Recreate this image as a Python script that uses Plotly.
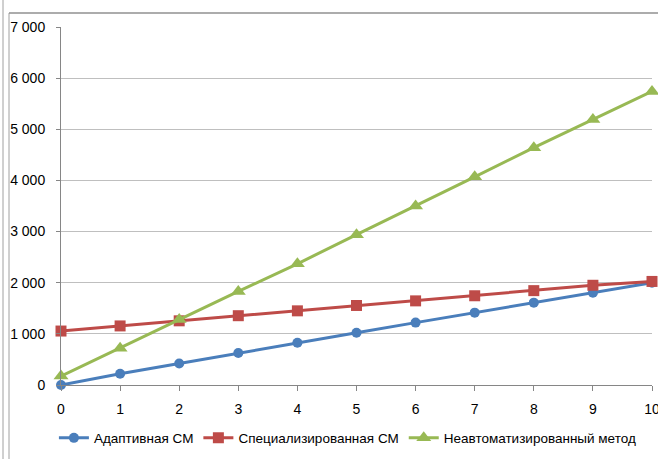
import plotly.graph_objects as go

x_vals = [0, 1, 2, 3, 4, 5, 6, 7, 8, 9, 10]
adaptive = [0, 220, 420, 625, 825, 1020, 1220, 1415, 1610, 1805, 2000]
specialized = [1055, 1155, 1255, 1355, 1450, 1555, 1645, 1745, 1845, 1950, 2025]
manual = [175, 720, 1280, 1830, 2370, 2940, 3500, 4070, 4640, 5190, 5740]

series_names = ["Адаптивная СМ", "Специализированная СМ", "Неавтоматизированный метод"]
y_tickvals = [0, 1000, 2000, 3000, 4000, 5000, 6000, 7000]
y_ticktext = ["0", "1 000", "2 000", "3 000", "4 000", "5 000", "6 000", "7 000"]
x_ticktext = [str(v) for v in x_vals]

FONT = "Liberation Sans"

fig = go.Figure()
fig.add_trace(go.Scatter(x=x_vals, y=adaptive, name=series_names[0], mode="lines+markers",
                         line=dict(color="#4A7EBB", width=3),
                         marker=dict(symbol="circle", size=10, color="#4A7EBB"),
                         cliponaxis=False))
fig.add_trace(go.Scatter(x=x_vals, y=specialized, name=series_names[1], mode="lines+markers",
                         line=dict(color="#BE4B48", width=3),
                         marker=dict(symbol="square", size=11, color="#BE4B48"),
                         cliponaxis=False))
fig.add_trace(go.Scatter(x=x_vals, y=manual, name=series_names[2], mode="lines+markers",
                         line=dict(color="#98B954", width=3),
                         marker=dict(symbol="triangle-up", size=13, color="#98B954"),
                         cliponaxis=False))

fig.update_layout(
    width=658, height=459,
    margin=dict(l=61, r=6, t=27, b=74, autoexpand=False),
    paper_bgcolor="white", plot_bgcolor="white",
    font=dict(family=FONT, size=14, color="#000000"),
    showlegend=True,
    legend=dict(orientation="h", x=-0.012, y=-0.105, xanchor="left", yanchor="top",
                font=dict(family=FONT, size=13.5), itemwidth=30, tracegroupgap=0),
    xaxis=dict(range=[0, 10], tickvals=x_vals, ticktext=x_ticktext,
               showgrid=False, showline=True, linecolor="#868686", linewidth=1,
               ticks="outside", ticklen=5, tickcolor="#868686", zeroline=False,
               ticklabelstandoff=6, ticklabeloverflow="allow", automargin=False,
               tickfont=dict(family=FONT, size=14)),
    yaxis=dict(range=[0, 7000], tickvals=y_tickvals, ticktext=y_ticktext,
               showgrid=True, gridcolor="#BFBFBF", gridwidth=1,
               showline=True, linecolor="#868686", linewidth=1,
               ticks="outside", ticklen=4, tickcolor="#868686", zeroline=False,
               ticklabelstandoff=8, ticklabeloverflow="allow", automargin=False,
               tickfont=dict(family=FONT, size=14)),
    shapes=[
        dict(type="line", xref="paper", yref="paper", x0=-58/591, x1=-58/591, y0=-74/358, y1=(358+27)/358,
             line=dict(color="#A0A0A0", width=1)),
        dict(type="line", xref="paper", yref="paper", x0=-52/591, x1=-52/591, y0=-74/358, y1=(358+14)/358,
             line=dict(color="#A0A0A0", width=1)),
        dict(type="line", xref="paper", yref="paper", x0=-52/591, x1=(591+6)/591, y0=(358+14)/358, y1=(358+14)/358,
             line=dict(color="#909090", width=1.5)),
    ],
)

fig.write_html("out.html", config={"displayModeBar": False},
               post_script="document.body.style.margin='0';document.body.style.overflow='hidden';")
